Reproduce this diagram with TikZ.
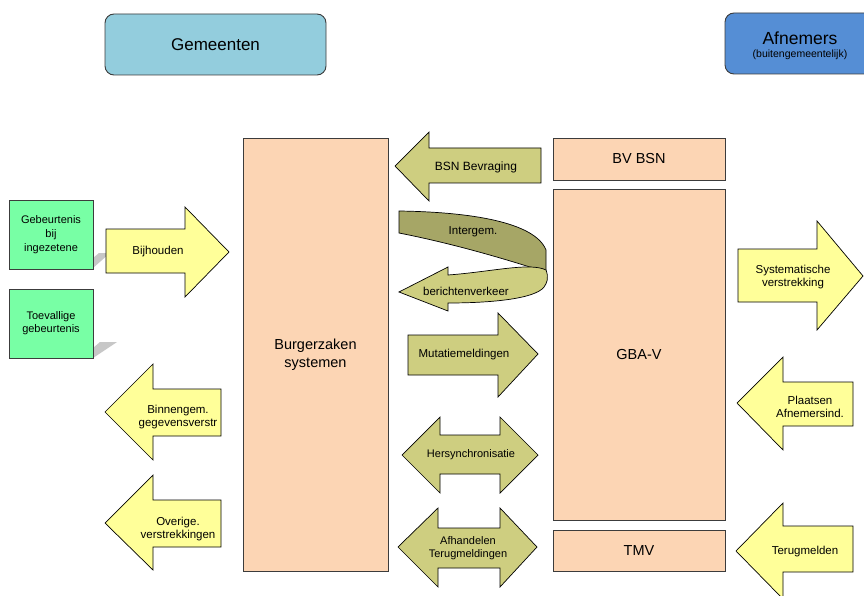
\documentclass[tikz,border=0pt]{standalone}
\usepackage{fontspec}
\setmainfont{Liberation Sans}
\definecolor{gemblue}{RGB}{147,205,221}
\definecolor{afnblue}{RGB}{85,142,213}
\definecolor{peach}{RGB}{252,213,180}
\definecolor{mint}{RGB}{120,255,165}
\definecolor{yel}{RGB}{255,255,153}
\definecolor{olive}{RGB}{206,206,128}
\definecolor{olivedark}{RGB}{166,166,102}
\definecolor{edge}{RGB}{60,60,60}
\tikzset{
  lbl/.style={align=center,inner sep=0pt,font=\fontsize{11.5}{12.5}\selectfont},
  biglbl/.style={align=center,inner sep=0pt,font=\fontsize{14.5}{18}\selectfont},
  headbox/.style={draw=edge,line width=0.9pt,rounded corners=9pt},
  sysbox/.style={draw=edge,line width=0.8pt,fill=peach},
  evbox/.style={draw=edge,line width=0.8pt,fill=mint},
  yarrow/.style={draw=black,line width=0.7pt,fill=yel},
  oarrow/.style={draw=black,line width=0.7pt,fill=olive},
  shadowshape/.style={fill=black!22,draw=none}
}
\begin{document}
\begin{tikzpicture}[x=1pt,y=-1pt]
\useasboundingbox (0,0) rectangle (864,596);
\clip (0,0) rectangle (864,596);
\fill[white] (0,0) rectangle (864,596);

% header boxes
\draw[headbox,fill=gemblue] (105,14) rectangle (326,75);
\node[inner sep=0pt,font=\fontsize{17}{20}\selectfont] (gem) at (215.5,45) {Gemeenten};
\draw[headbox,fill=afnblue] (725,13) rectangle (880,74);
\node[inner sep=0pt,font=\fontsize{17.5}{20}\selectfont] (afn) at (800,38) {Afnemers};
\node[inner sep=0pt,font=\fontsize{10.5}{12}\selectfont] (afnsub) at (800,55) {(buitengemeentelijk)};

% shadows of event boxes
\fill[shadowshape] (93,258) -- (99,253) -- (110,253) -- (93,268) -- cycle;
\fill[shadowshape] (93,348) -- (100,342) -- (117,342) -- (93,358) -- cycle;

% event boxes
\draw[evbox] (9,200) rectangle (93,269);
\node[lbl,font=\fontsize{11}{14}\selectfont] (geb) at (51,235) {Gebeurtenis\\bij\\ingezetene};
\draw[evbox] (9,289) rectangle (93,358);
\node[lbl,font=\fontsize{11}{13}\selectfont] (toe) at (51,323) {Toevallige\\gebeurtenis};

% system boxes
\draw[sysbox] (243,138) rectangle (388,571);
\node[biglbl] (bz) at (315.5,355) {Burgerzaken\\systemen};
\draw[sysbox] (553,138) rectangle (725,180);
\node[biglbl] (bv) at (639,159) {BV BSN};
\draw[sysbox] (553,189) rectangle (725,520);
\node[biglbl] (gba) at (639,355) {GBA-V};
\draw[sysbox] (553,530) rectangle (725,571);
\node[biglbl] (tmv) at (639,551) {TMV};

% left arrows
\draw[yarrow] (106,229) -- (185,229) -- (185,207) -- (229,252) -- (185,297) -- (185,273) -- (106,273) -- cycle;
\node[lbl] (bij) at (158,252) {Bijhouden};
\draw[yarrow] (221,389) -- (153,389) -- (153,364) -- (105,412) -- (153,460) -- (153,436) -- (221,436) -- cycle;
\node[lbl] (binn) at (178,417) {Binnengem.\\gegevensverstr};
\draw[yarrow] (221,500) -- (153,500) -- (153,475) -- (105,523) -- (153,570) -- (153,547) -- (221,547) -- cycle;
\node[lbl] (ovr) at (178,529) {Overige.\\verstrekkingen};

% middle arrows
\draw[oarrow] (541,148) -- (429,148) -- (429,132) -- (395,166) -- (429,201) -- (429,183) -- (541,183) -- cycle;
\node[lbl,font=\fontsize{12}{13}\selectfont] (bsn) at (476,167) {BSN Bevraging};

% curved arrow: back face
\draw[draw=black,line width=0.7pt,fill=olivedark]
  (399,211) .. controls (470,212) and (535,222) .. (546,250)
  -- (546,272) .. controls (520,264) and (465,246) .. (399,233) -- cycle;
% curved arrow: front face with head
\draw[oarrow]
  (448,275) .. controls (490,272) and (530,262) .. (546,270)
  .. controls (549,278) and (547,283) .. (544,287)
  .. controls (535,299) and (490,303) .. (448,303)
  -- (448,311) -- (399,292) -- (448,267) -- cycle;
\node[lbl] (intg) at (473,232) {Intergem.};
\node[lbl] (bericht) at (466,291) {berichtenverkeer};

\draw[oarrow] (408,335) -- (498,335) -- (498,313) -- (538,354) -- (498,397) -- (498,375) -- (408,375) -- cycle;
\node[lbl] (mut) at (464,355) {Mutatiemeldingen};
\draw[oarrow] (402,455) -- (440,417) -- (440,435) -- (500,435) -- (500,417) -- (538,455) -- (500,493) -- (500,474) -- (440,474) -- (440,493) -- cycle;
\node[lbl,font=\fontsize{11}{12.5}\selectfont] (hers) at (471,455) {Hersynchronisatie};
\draw[oarrow] (398,547) -- (438,508) -- (438,528) -- (500,528) -- (500,508) -- (537,547) -- (500,587) -- (500,568) -- (438,568) -- (438,587) -- cycle;
\node[lbl,font=\fontsize{11}{13}\selectfont] (afh) at (468,548) {Afhandelen\\Terugmeldingen};

% right arrows
\draw[yarrow] (738,249) -- (817,249) -- (817,221) -- (863,276) -- (817,330) -- (817,302) -- (738,302) -- cycle;
\node[lbl] (sys) at (793,277) {Systematische\\verstrekking};
\draw[yarrow] (853,382) -- (783,382) -- (783,357) -- (737,403) -- (783,450) -- (783,426) -- (853,426) -- cycle;
\node[lbl] (plaats) at (810,407) {Plaatsen\\Afnemersind.};
\draw[yarrow] (853,526) -- (783,526) -- (783,503) -- (736,551) -- (783,599) -- (783,572) -- (853,572) -- cycle;
\node[lbl] (terug) at (805,552) {Terugmelden};
\end{tikzpicture}
\end{document}
